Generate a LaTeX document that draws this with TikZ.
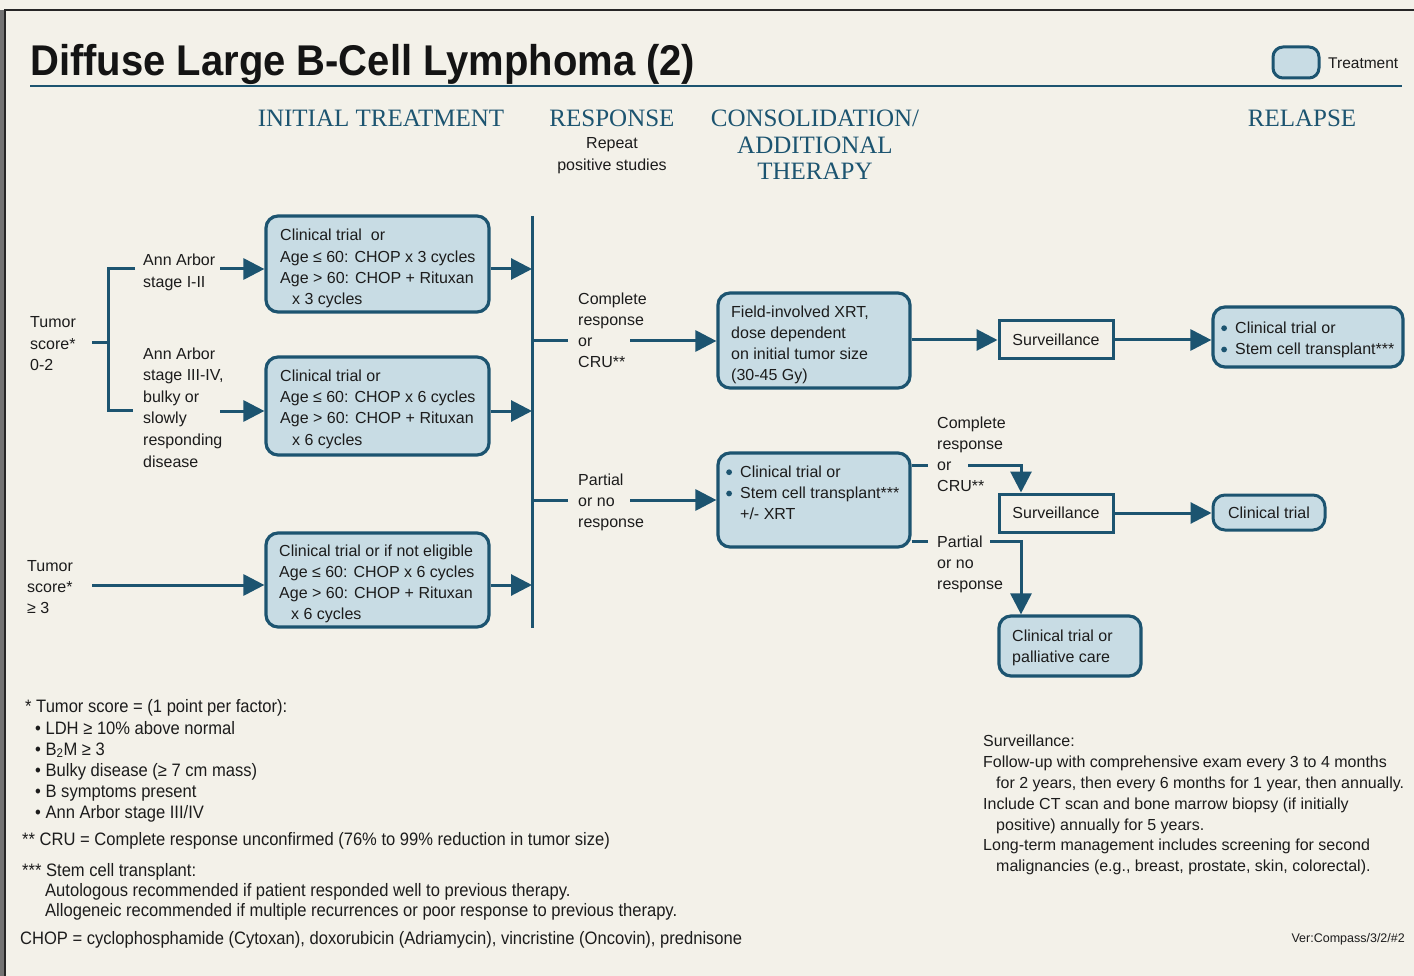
\documentclass[tikz,border=0pt]{standalone}
\usepackage{fontspec}
\setmainfont{Liberation Sans}
\newfontfamily\headfont{Liberation Serif}
\newfontfamily\narrowfont[FakeStretch=0.92]{Liberation Sans}
\newfontfamily\titlefont[FakeStretch=0.93]{Liberation Sans}
\usetikzlibrary{arrows.meta}
\definecolor{dteal}{RGB}{28,84,112}
\definecolor{boxfill}{RGB}{200,220,228}
\definecolor{bgc}{RGB}{243,241,233}
\definecolor{ink}{RGB}{28,28,28}
\newcommand\bul{\makebox[14pt][l]{\tikz[baseline=0pt]\fill[dteal] (3pt,4.8pt) circle[radius=2.9pt];}}
\newcommand\nobul{\hspace*{14pt}}
\begin{document}
\begin{tikzpicture}[x=1pt,y=-1pt,
  txt/.style={font=\fontsize{16}{21.3}\selectfont, text=ink, inner sep=0pt, align=left, anchor=base west},
  ctxt/.style={txt, align=center, anchor=base},
  head/.style={font=\headfont\fontsize{25}{26.5}\selectfont, text=dteal, inner sep=0pt, align=center, anchor=base},
  tbox/.style={draw=dteal, line width=3.2pt, fill=boxfill, rounded corners=12pt, inner sep=0pt},
  sbox/.style={draw=dteal, line width=3pt, fill=bgc, inner sep=0pt, font=\fontsize{16}{21}\selectfont, text=ink},
  ln/.style={draw=dteal, line width=3pt},
  arr/.style={ln, -{Triangle[length=21pt,width=21pt]}},
  note/.style={font=\narrowfont\fontsize{18}{21}\selectfont, text=ink, inner sep=0pt, anchor=base west},
  rnote/.style={font=\fontsize{16}{21}\selectfont, text=ink, inner sep=0pt, anchor=base west},
]
\useasboundingbox (0,0) rectangle (1414,976);
\fill[bgc] (0,0) rectangle (1414,976);
\fill[black!55] (0,10) rectangle (5,976);
\draw[black!85, line width=1.5pt] (5,976) -- (5,10) -- (1414,10);

% title
\node[inner sep=0pt, anchor=base west, font=\titlefont\bfseries\fontsize{43}{43}\selectfont, text=black!92] (title) at (30,76) {Diffuse Large B-Cell Lymphoma (2)};
\draw[dteal, line width=2.5pt] (30,86) -- (1402,86);

% legend
\node[tbox, line width=3pt, rounded corners=10pt, minimum width=46pt, minimum height=31pt] (leg) at (1296,62.5) {};
\node[txt, font=\fontsize{15.5}{18}\selectfont] (legt) at (1328,69) {Treatment};

% headers (base anchor = last line baseline)
\node[head] (h1) at (381,127) {INITIAL TREATMENT};
\node[head] (h2) at (612,127) {RESPONSE};
\node[head] (h3) at (815,180) {CONSOLIDATION/\\ADDITIONAL\\THERAPY};
\node[head] (h4) at (1302,127) {RELAPSE};
\node[ctxt] (h2s) at (612,170.3) {Repeat\\positive studies};

% left labels
\node[txt] (t02) at (30,370.6) {Tumor\\score*\\0-2};
\node[txt] (aa1) at (143,287.3) {Ann Arbor\\stage I-II};
\node[txt, font=\fontsize{16}{21.6}\selectfont] (aa2) at (143,467) {Ann Arbor\\stage III-IV,\\bulky or\\slowly\\responding\\disease};
\node[txt] (t3) at (27,613.6) {Tumor\\score*\\≥ 3};

% initial treatment boxes
\node[tbox, minimum width=223pt, minimum height=96pt] (b1) at (377.5,264) {};
\node[txt] (b1t) at (280,304.9) {Clinical trial\ \ or\\Age ≤ 60: CHOP x 3 cycles\\Age > 60: CHOP + Rituxan\\\hspace*{12pt}x 3 cycles};
\node[tbox, minimum width=223pt, minimum height=98pt] (b2) at (377.5,406) {};
\node[txt] (b2t) at (280,445) {Clinical trial or\\Age ≤ 60: CHOP x 6 cycles\\Age > 60: CHOP + Rituxan\\\hspace*{12pt}x 6 cycles};
\node[tbox, minimum width=223pt, minimum height=94pt] (b3) at (377.5,580) {};
\node[txt] (b3t) at (279,619.9) {Clinical trial or if not eligible\\Age ≤ 60: CHOP x 6 cycles\\Age > 60: CHOP + Rituxan\\\hspace*{12pt}x 6 cycles};

% bracket
\coordinate (k0) at (92,343); \coordinate (kb) at (108,343);
\coordinate (kt) at (108,269); \coordinate (kd) at (108,410);
\coordinate (ka1) at (135,269); \coordinate (ka2) at (133,410);
\draw[ln] (k0) -- (kb);
\draw[ln] (ka1) -- (kt) -- (kd) -- (ka2);

% bar
\coordinate (barT) at (532,216); \coordinate (barB) at (532,628);
\draw[ln] (barT) -- (barB);

% arrows into / out of initial boxes
\coordinate (a1) at (220,269); \coordinate (a2) at (220,411); \coordinate (a3) at (92,585);
\draw[arr] (a1) -- (a1 -| b1.west);
\draw[arr] (a2) -- (a2 -| b2.west);
\draw[arr] (a3) -- (a3 -| b3.west);
\draw[arr] (a1 -| b1.east) -- (a1 -| barT);
\draw[arr] (a2 -| b2.east) -- (a2 -| barT);
\draw[arr] (a3 -| b3.east) -- (a3 -| barT);

% response
\coordinate (r1) at (532,341); \coordinate (r1e) at (568,341);
\draw[ln] (r1) -- (r1e);
\node[txt] (cr1) at (578,367.9) {Complete\\response\\or\\CRU**};
\coordinate (r2) at (532,500); \coordinate (r2e) at (568,500);
\draw[ln] (r2) -- (r2e);
\node[txt] (pr1) at (578,527.6) {Partial\\or no\\response};

% consolidation boxes
\node[tbox, minimum width=192pt, minimum height=95pt] (b4) at (814,340.5) {};
\node[txt] (b4t) at (731,380.9) {Field-involved XRT,\\dose dependent\\on initial tumor size\\(30-45 Gy)};
\node[tbox, minimum width=192pt, minimum height=94pt] (b5) at (814,500) {};
\node[txt] (b5t) at (726,519.6) {\bul Clinical trial or\\\bul Stem cell transplant***\\\nobul+/- XRT};
\coordinate (r1s) at (630,341); \draw[arr] (r1s) -- (r1s -| b4.west);
\coordinate (r2s) at (630,500); \draw[arr] (r2s) -- (r2s -| b5.west);

% upper path
\node[sbox, minimum width=114pt, minimum height=38pt] (s1) at (1056,340) {Surveillance};
\node[tbox, minimum width=190pt, minimum height=60pt] (rb1) at (1308,337) {};
\node[txt] (rb1t) at (1221,354.3) {\bul Clinical trial or\\\bul Stem cell transplant***};
\draw[arr] (b4.east |- s1.west) -- (s1.west);
\draw[arr] (s1.east) -- (s1.east -| rb1.west);

% lower path
\node[txt] (cr2) at (937,491.9) {Complete\\response\\or\\CRU**};
\node[sbox, minimum width=114pt, minimum height=38pt] (s2) at (1056,513) {Surveillance};
\node[tbox, line width=3pt, minimum width=112pt, minimum height=35pt, font=\fontsize{16}{21}\selectfont, text=ink] (ct) at (1269,512.5) {Clinical trial};
\node[txt] (pr2) at (937,589.6) {Partial\\or no\\response};
\node[tbox, minimum width=142pt, minimum height=60pt] (b6) at (1070,646) {};
\node[txt] (b6t) at (1012,662.3) {Clinical trial or\\palliative care};

\coordinate (c2a) at (928,465); \coordinate (c2b) at (968,465); \coordinate (c2k) at (1021,465);
\draw[ln] (b5.east |- c2a) -- (c2a);
\draw[arr] (c2b) -- (c2k) -- (c2k |- s2.north);
\draw[arr] (s2.east) -- (s2.east -| ct.west);
\coordinate (p2a) at (928,541); \coordinate (p2b) at (990,541); \coordinate (p2k) at (1021,541);
\draw[ln] (b5.east |- p2a) -- (p2a);
\draw[arr] (p2b) -- (p2k) -- (p2k |- b6.north);

% footnotes left
\node[note] (n1) at (25,712) {* Tumor score = (1 point per factor):};
\node[note] (n2) at (35,734) {• LDH ≥ 10\% above normal};
\node[note] (n3) at (35,755) {• B\textsubscript{2}M ≥ 3};
\node[note] (n4) at (35,776) {• Bulky disease (≥ 7 cm mass)};
\node[note] (n5) at (35,797) {• B symptoms present};
\node[note] (n6) at (35,818) {• Ann Arbor stage III/IV};
\node[note] (n7) at (22,845) {** CRU = Complete response unconfirmed (76\% to 99\% reduction in tumor size)};
\node[note] (n8) at (22,876) {*** Stem cell transplant:};
\node[note] (n9) at (45,896) {Autologous recommended if patient responded well to previous therapy.};
\node[note] (n10) at (45,916) {Allogeneic recommended if multiple recurrences or poor response to previous therapy.};
\node[note] (n11) at (20,944) {CHOP = cyclophosphamide (Cytoxan), doxorubicin (Adriamycin), vincristine (Oncovin), prednisone};

% footnotes right
\node[rnote] (m1) at (983,746) {Surveillance:};
\node[rnote] (m2) at (983,767) {Follow-up with comprehensive exam every 3 to 4 months};
\node[rnote] (m3) at (996,788) {for 2 years, then every 6 months for 1 year, then annually.};
\node[rnote] (m4) at (983,809) {Include CT scan and bone marrow biopsy (if initially};
\node[rnote] (m5) at (996,830) {positive) annually for 5 years.};
\node[rnote] (m6) at (983,850) {Long-term management includes screening for second};
\node[rnote] (m7) at (996,871) {malignancies (e.g., breast, prostate, skin, colorectal).};
\node[inner sep=0pt, anchor=base east, font=\fontsize{12.5}{14}\selectfont, text=ink] (ver) at (1405,942) {Ver:Compass/3/2/\#2};
\end{tikzpicture}
\end{document}
